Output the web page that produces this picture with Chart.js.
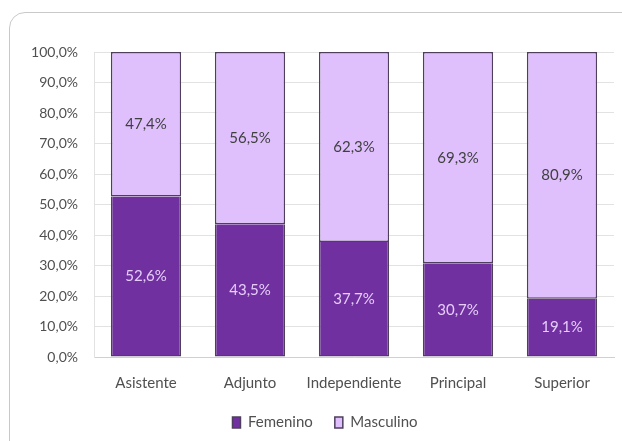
<!DOCTYPE html>
<html>
<head>
<meta charset="utf-8">
<script src="https://cdn.jsdelivr.net/npm/chart.js@4/dist/chart.umd.min.js"></script>
<style>
  html, body { margin: 0; padding: 0; background: #ffffff; }
  body { width: 622px; height: 441px; position: relative; overflow: hidden; }
  #frame {
    position: absolute; left: 9px; top: 12px; width: 660px; height: 480px;
    border: 1.5px solid #c9c9c9; border-radius: 16px; background: #ffffff;
    box-sizing: border-box;
  }
  #wrap { position: absolute; left: 0; top: 0; width: 622px; height: 441px; }
</style>
</head>
<body>
<div id="frame"></div>
<div id="wrap"><canvas id="chart" width="622" height="441"></canvas></div>
<script>
// Categorías del escalafón y porcentajes por sexo
const categorias = ['Asistente', 'Adjunto', 'Independiente', 'Principal', 'Superior'];
const femenino = [52.6, 43.5, 37.7, 30.7, 19.1];
const masculino = [47.4, 56.5, 62.3, 69.3, 80.9];
const serieNombres = ['Femenino', 'Masculino'];
const ejeY = { min: 0, max: 100, paso: 10 };

const fuente = 'Lato, "Liberation Sans", sans-serif';
const fmtPct = v => v.toFixed(1).replace('.', ',') + '%';

// Etiquetas de valor centradas en cada segmento
const etiquetasValor = {
  id: 'etiquetasValor',
  afterDatasetsDraw(chart) {
    const ctx = chart.ctx;
    ctx.save();
    ctx.font = '15px ' + fuente;
    ctx.textAlign = 'center';
    ctx.textBaseline = 'middle';
    chart.data.datasets.forEach((ds, i) => {
      const meta = chart.getDatasetMeta(i);
      ctx.fillStyle = ds.labelColor;
      meta.data.forEach((bar, j) => {
        const c = bar.getCenterPoint();
        ctx.fillText(fmtPct(ds.data[j]), c.x, c.y);
      });
    });
    ctx.restore();
  }
};

// Centra la leyenda bajo el área de trazado en lugar de todo el lienzo
const leyendaCentrada = {
  id: 'leyendaCentrada',
  afterLayout(chart) {
    const lg = chart.legend;
    if (!lg) return;
    const dx = (chart.chartArea.left + chart.chartArea.right) / 2 - (lg.left + lg.right) / 2 - 29;
    lg.left += dx;
    lg.right += dx;
  }
};

new Chart(document.getElementById('chart'), {
  type: 'bar',
  data: {
    labels: categorias,
    datasets: [
      {
        label: serieNombres[0],
        data: femenino,
        backgroundColor: '#7030a0',
        borderColor: '#4e3f5c',
        borderWidth: 1.5,
        borderSkipped: 'top',
        labelColor: '#e6cdfa'
      },
      {
        label: serieNombres[1],
        data: masculino,
        backgroundColor: '#dfc0fd',
        borderColor: '#4e3f5c',
        borderWidth: 1.5,
        borderSkipped: false,
        labelColor: '#3f3f3f'
      }
    ]
  },
  options: {
    responsive: false,
    animation: false,
    devicePixelRatio: 1,
    categoryPercentage: 0.675,
    barPercentage: 1,
    layout: { padding: { left: 0, right: 8, top: 52, bottom: 1 } },
    plugins: {
      tooltip: { enabled: false },
      legend: {
        position: 'bottom',
        labels: {
          boxWidth: 8,
          boxHeight: 11,
          padding: 22,
          color: '#505050',
          font: { family: fuente, size: 15 }
        }
      }
    },
    scales: {
      x: {
        stacked: true,
        grid: { display: false, drawTicks: false },
        border: { display: true, color: '#d0d0d0', width: 1 },
        ticks: {
          padding: 17,
          color: '#505050',
          font: { family: fuente, size: 15 }
        },
        afterFit(scale) { scale.height = 36; }
      },
      y: {
        stacked: true,
        min: ejeY.min,
        max: ejeY.max,
        grid: { color: '#e2e2e2', lineWidth: 1, drawTicks: false },
        border: { display: true, color: '#e2e2e2', width: 1 },
        ticks: {
          stepSize: ejeY.paso,
          padding: 16,
          color: '#505050',
          font: { family: fuente, size: 14 },
          callback: v => fmtPct(v)
        },
        afterFit(scale) { scale.width = 94; }
      }
    }
  },
  plugins: [etiquetasValor, leyendaCentrada]
});
</script>
</body>
</html>
